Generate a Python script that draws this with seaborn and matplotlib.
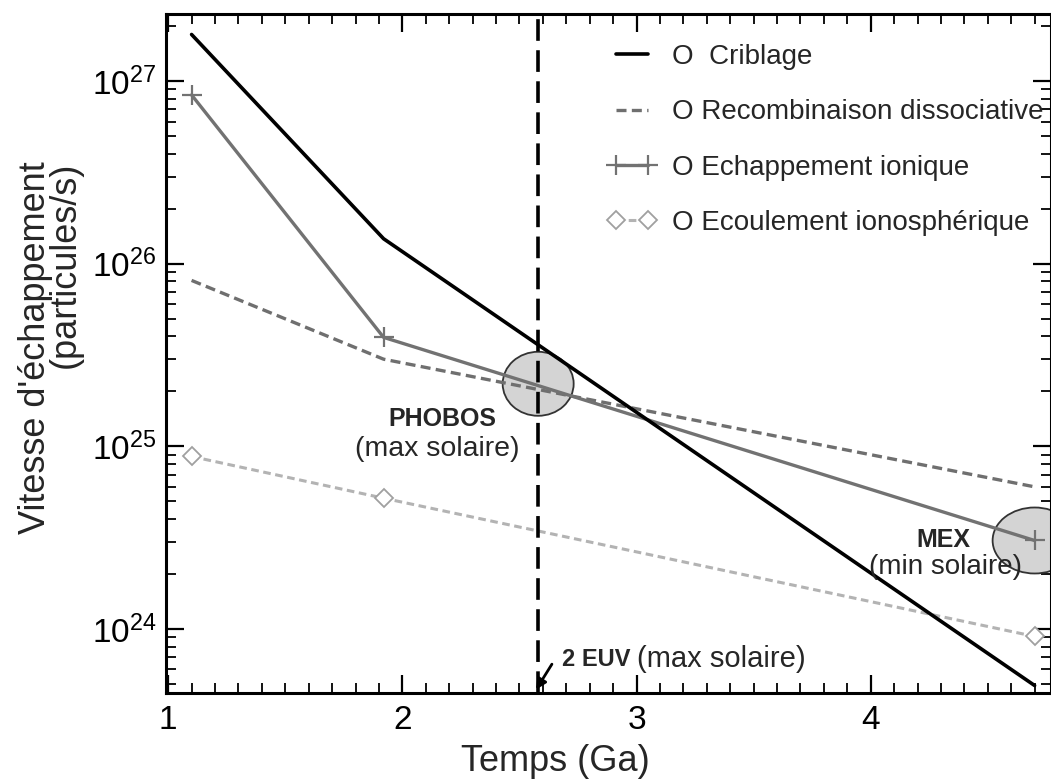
import matplotlib
matplotlib.use("Agg")
import matplotlib.pyplot as plt
from matplotlib.patches import Ellipse
import numpy as np
import pandas as pd
import seaborn as sns

# Escape rates of oxygen from Mars vs. time (Ga)
temps_criblage = [1.1, 1.92, 4.7]
criblage = [1.8e27, 1.37e26, 4.9e23]

temps = [1.1, 1.92, 4.7]
recombinaison = [8.1e25, 3.0e25, 6.0e24]
echappement_ionique = [8.4e26, 3.95e25, 3.05e24]
ecoulement_ionospherique = [8.8e24, 5.2e24, 9.1e23]

labels = ["O  Criblage", "O Recombinaison dissociative",
          "O Echappement ionique", "O Ecoulement ionosphérique"]

euv_temps = 2.58          # 2 EUV epoch
phobos_point = (2.58, 2.2e25)
mex_point = (4.7, 3.05e24)

sns.set_theme(style="ticks")
plt.rcParams["font.family"] = ["Liberation Sans", "DejaVu Sans"]
plt.rcParams["mathtext.default"] = "regular"

fig = plt.figure(figsize=(10.51, 7.82), dpi=100)
ax = fig.add_axes([0.158, 0.114, 0.842, 0.868])

xlim = (0.991, 4.77)
ylim = (10 ** 23.65, 10 ** 27.367)

df_c = pd.DataFrame({"t": temps_criblage, "v": criblage})
df_r = pd.DataFrame({"t": temps, "v": recombinaison})
df_e = pd.DataFrame({"t": temps, "v": echappement_ionique})
df_o = pd.DataFrame({"t": temps, "v": ecoulement_ionospherique})

sns.lineplot(data=df_c, x="t", y="v", ax=ax, color="black", lw=2.6,
             label=labels[0], zorder=5)
sns.lineplot(data=df_r, x="t", y="v", ax=ax, color="#6f6f6f", lw=2.4,
             linestyle=(0, (3, 1.6)), label=labels[1], zorder=4)
sns.lineplot(data=df_e, x="t", y="v", ax=ax, color="#727272", lw=2.4,
             marker="+", markersize=15, markeredgewidth=1.6,
             markeredgecolor="#727272", label=labels[2], zorder=4)
sns.lineplot(data=df_o, x="t", y="v", ax=ax, color="#b3b3b3", lw=2.2,
             linestyle=(0, (2.5, 1.5)), marker="D", markersize=9,
             markerfacecolor="white", markeredgecolor="#a0a0a0",
             markeredgewidth=1.3, label=labels[3], zorder=4)

ax.set_yscale("log")
ax.set_xlim(*xlim)
ax.set_ylim(*ylim)

# vertical marker of the 2 EUV epoch
ax.axvline(euv_temps, color="black", lw=2.6, linestyle=(0, (6, 2.6)), zorder=6)

# shaded ellipses around the spacecraft measurements
def axes_frac(x, y):
    fx = (x - xlim[0]) / (xlim[1] - xlim[0])
    fy = (np.log10(y) - np.log10(ylim[0])) / (np.log10(ylim[1]) - np.log10(ylim[0]))
    return fx, fy

ax_w_px = 0.842 * 1051
ax_h_px = 0.868 * 782
for (px, py), w, h in [(phobos_point, 71, 64), (mex_point, 84, 66)]:
    cx, cy = axes_frac(px, py)
    ax.add_patch(Ellipse((cx, cy), w / ax_w_px, h / ax_h_px,
                         transform=ax.transAxes, facecolor="#d4d4d4",
                         edgecolor="#333333", lw=1.3, zorder=2,
                         clip_on=False))

# annotations
ax.text(2.17, 10 ** 25.149, "PHOBOS", fontsize=18, fontweight="bold",
        ha="center", va="center", zorder=7)
ax.text(2.15, 10 ** 24.985, "(max solaire)", fontsize=20.5,
        ha="center", va="center", zorder=7)
ax.text(4.31, 10 ** 24.487, "MEX", fontsize=18, fontweight="bold",
        ha="center", va="center", zorder=7)
ax.text(4.32, 10 ** 24.34, "(min solaire)", fontsize=20,
        ha="center", va="center", zorder=7)

ax.annotate("", xy=(euv_temps - 0.015, 10 ** 23.655),
            xytext=(euv_temps + 0.065, 10 ** 23.82),
            arrowprops=dict(arrowstyle="-|>", color="black", lw=2.0,
                            mutation_scale=15), zorder=7)
ax.text(euv_temps + 0.1, 10 ** 23.835, "2 EUV", fontsize=17,
        fontweight="bold", ha="left", va="center", zorder=7)
ax.text(euv_temps + 0.42, 10 ** 23.835, "(max solaire)", fontsize=21,
        ha="left", va="center", zorder=7)

# legend
leg = ax.legend(loc="upper left", bbox_to_anchor=(0.487, 0.972),
                frameon=False, fontsize=20, handlelength=1.75,
                handletextpad=0.55, labelspacing=1.05, borderaxespad=0,
                numpoints=2)

# axes styling
for side in ["left", "right", "top", "bottom"]:
    ax.spines[side].set_linewidth(2.2)
    ax.spines[side].set_color("black")

ax.set_xticks([1, 2, 3, 4])
ax.set_xticklabels(["1", "2", "3", "4"])
ax.xaxis.set_minor_locator(matplotlib.ticker.MultipleLocator(0.1))
ax.tick_params(axis="both", which="major", direction="in", length=13,
               width=1.6, top=True, right=True, color="black",
               labelcolor="black")
ax.tick_params(axis="both", which="minor", direction="in", length=7,
               width=1.3, top=True, right=True, color="black")
ax.tick_params(axis="x", which="major", pad=9, labelsize=24)
ax.tick_params(axis="y", which="major", pad=7, labelsize=24)

ax.set_xlabel("Temps (Ga)", fontsize=26)
ax.xaxis.set_label_coords(0.44, -0.075)
ax.set_ylabel("Vitesse d'échappement\n(particules/s)", fontsize=26,
              linespacing=0.8, multialignment="right")
ax.yaxis.set_label_coords(-0.094, 0.508)

fig.savefig("out.png", dpi=100)
